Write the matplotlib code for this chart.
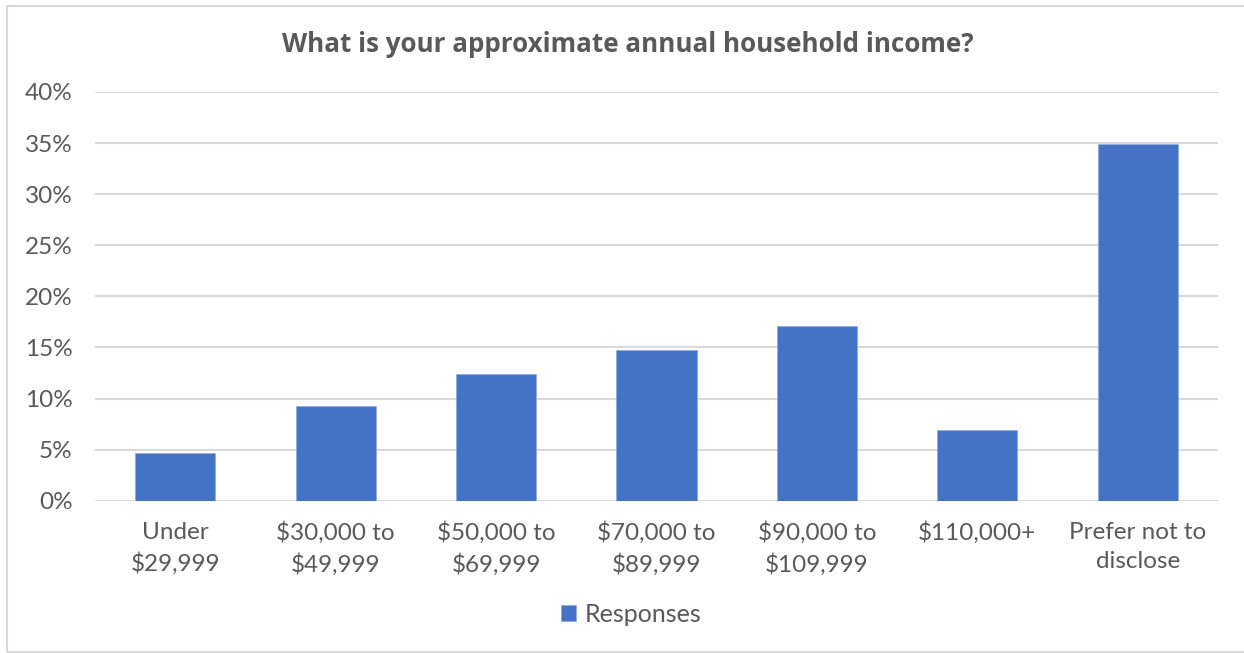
import matplotlib
matplotlib.use("Agg")
import matplotlib.pyplot as plt
from matplotlib.patches import Rectangle
from matplotlib.ticker import PercentFormatter

categories = ["Under\n$29,999", "$30,000 to\n$49,999", "$50,000 to\n$69,999",
              "$70,000 to\n$89,999", "$90,000 to\n$109,999", "$110,000+",
              "Prefer not to\ndisclose"]
responses = [4.65, 9.3, 12.4, 14.75, 17.05, 6.95, 34.95]
y_ticks = [0, 5, 10, 15, 20, 25, 30, 35, 40]
series_name = "Responses"
title = "What is your approximate annual household income?"

bar_color = "#4472C4"
text_color = "#595959"
grid_color = "#D9D9D9"

W, H = 1244, 653
fig = plt.figure(figsize=(W / 100, H / 100), dpi=100)
fig.patch.set_facecolor("white")

# light outer frame (open on the right edge)
fig.patches.append(Rectangle((6.5 / W, 1.5 / H), (W + 10) / W, (H - 7.5) / H,
                             transform=fig.transFigure, fill=False,
                             edgecolor=grid_color, linewidth=1.5))

ax = fig.add_axes([95 / W, (H - 500.7) / H, 1123 / W, (500.7 - 92) / H])
x = range(len(categories))
ax.bar(x, responses, width=0.5, color=bar_color, edgecolor="#8FAADC",
       linewidth=0.5, zorder=3, label=series_name)

ax.set_xlim(-0.5, len(categories) - 0.5)
ax.set_ylim(0, 40)
ax.set_yticks(y_ticks)
ax.yaxis.set_major_formatter(PercentFormatter(decimals=0))
ax.set_xticks(list(x))
ax.set_xticklabels(categories, linespacing=1.5)

for s in ax.spines.values():
    s.set_visible(False)
ax.grid(axis="y", color=grid_color, linewidth=1.5, zorder=0)
ax.tick_params(axis="both", length=0, colors=text_color, labelsize=17.5)
ax.tick_params(axis="y", pad=16)
ax.tick_params(axis="x", pad=15)
for lbl in ax.get_xticklabels() + ax.get_yticklabels():
    lbl.set_fontfamily("Lato")
    lbl.set_color(text_color)

fig.text(0.505, (H - 44) / H, title, ha="center", va="center",
         fontsize=18.7, fontweight="bold", family="Open Sans", color=text_color)

leg = fig.legend(loc="center", bbox_to_anchor=(631 / W, (H - 614) / H),
                 frameon=False, handlelength=0.6, handleheight=0.6,
                 handletextpad=0.35, prop={"family": "Lato", "size": 18})
for t in leg.get_texts():
    t.set_color(text_color)

fig.savefig("out.png", dpi=100, facecolor="white")
